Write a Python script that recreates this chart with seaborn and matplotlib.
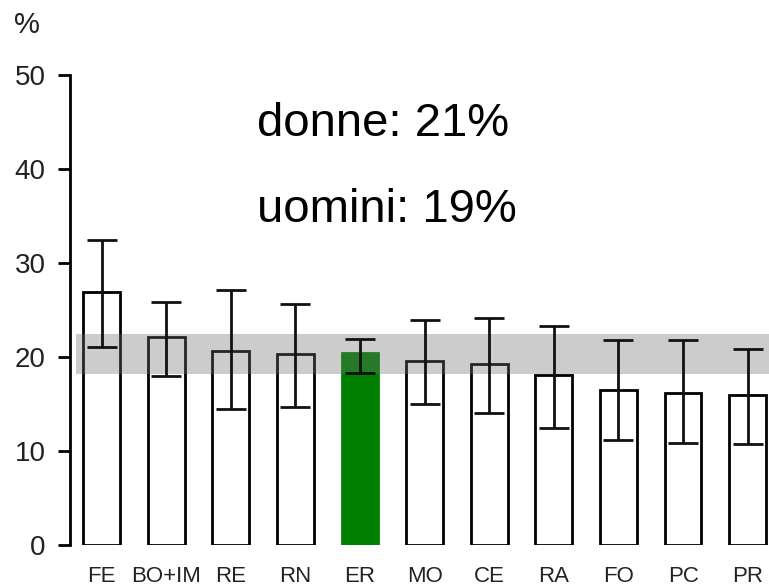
import matplotlib
matplotlib.use("Agg")
import pandas as pd
import seaborn as sns
from matplotlib import pyplot as plt

# data
areas = ["FE", "BO+IM", "RE", "RN", "ER", "MO", "CE", "RA", "FO", "PC", "PR"]
values = [26.9, 22.1, 20.6, 20.3, 20.4, 19.6, 19.3, 18.1, 16.5, 16.2, 16.0]
ci_low = [21.1, 18.0, 14.5, 14.7, 18.3, 15.0, 14.0, 12.4, 11.2, 10.9, 10.7]
ci_high = [32.4, 25.9, 27.1, 25.6, 21.9, 23.9, 24.1, 23.3, 21.8, 21.8, 20.8]
region_band = [18.2, 22.4]  # ER confidence band
highlight = "ER"
notes = ["donne: 21%", "uomini: 19%"]

sns.set_style("white")
plt.rcParams['font.family'] = ['Liberation Sans', 'DejaVu Sans']

df = pd.DataFrame({"area": areas, "value": values})
colors = ["#008000" if a == highlight else "white" for a in areas]

fig = plt.figure(figsize=(7.69, 5.87), dpi=100)
ax = fig.add_axes([0.091, 0.0716, 0.909, 0.8006])

sns.barplot(data=df, x="area", y="value", hue="area", palette=colors, legend=False,
            saturation=1, width=0.57, edgecolor="black", linewidth=2.0, ax=ax, zorder=2)
# green bar without black border
for patch, a in zip(ax.patches, areas):
    if a == highlight:
        patch.set_edgecolor("#008000")

ax.axhspan(region_band[0], region_band[1], xmin=0.009, color="#6e6e6e", alpha=0.35,
           lw=0, zorder=3)

yerr = [[v - lo for v, lo in zip(values, ci_low)], [hi - v for v, hi in zip(values, ci_high)]]
ax.errorbar(range(len(areas)), values, yerr=yerr, fmt="none", ecolor="#111111",
            elinewidth=2.0, capsize=10.5, capthick=2.0, zorder=4)

ax.set_ylim(0, 50)
ax.set_xlim(-0.49, 10.33)
ax.set_yticks([0, 10, 20, 30, 40, 50])
ax.set_xlabel("")
ax.set_ylabel("")
sns.despine(ax=ax, right=True, top=True, bottom=True)
ax.spines["left"].set_linewidth(2.0)
ax.spines["left"].set_color("black")
ax.tick_params(axis="y", length=8.5, width=2.0, pad=9, labelsize=20, colors="black",
               labelcolor="#222222", left=True)
ax.tick_params(axis="x", length=0, pad=15, labelsize=16, labelcolor="#222222")

fig.text(0.035, 0.958, "%", fontsize=21, ha="center", va="center", color="#222222")
ax.text(2.4, 43.5, notes[0], fontsize=34, ha="left", va="baseline", color="black")
ax.text(2.4, 34.4, notes[1], fontsize=34, ha="left", va="baseline", color="black")

fig.savefig("out.png", dpi=100)
